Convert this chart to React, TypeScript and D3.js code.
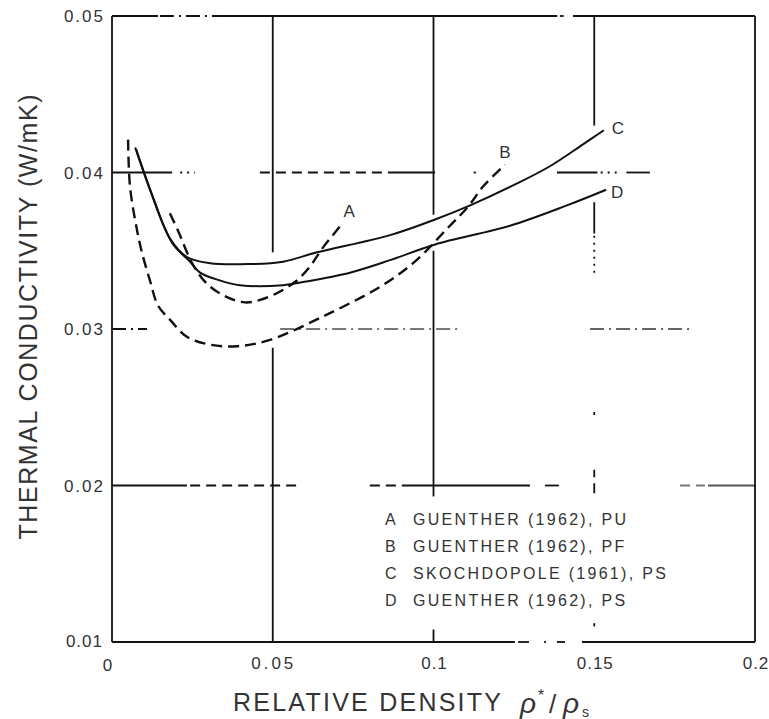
import React from "react";
import * as d3 from "d3";

// ---- data ----
const xTicks = [0, 0.05, 0.1, 0.15, 0.2];
const xTickLabels = ["0", "0.05", "0.1", "0.15", "0.2"];
const yTicks = [0.02, 0.03, 0.04, 0.05];
const yTickLabels = ["0.02", "0.03", "0.04", "0.05"];
const yBottomLabel = "0.01";

// relative density, thermal conductivity
const curveA: [number, number][] = [
  [0.018, 0.0374], [0.0205, 0.0363], [0.0252, 0.0341], [0.0295, 0.0329],
  [0.0351, 0.0321], [0.0414, 0.0317], [0.0467, 0.0319], [0.0523, 0.0324],
  [0.0575, 0.0331], [0.0616, 0.034], [0.0656, 0.0352], [0.0719, 0.0368],
];
const curveB: [number, number][] = [
  [0.005, 0.0421], [0.0056, 0.0391], [0.0078, 0.0363], [0.0093, 0.0349],
  [0.0118, 0.0331], [0.0143, 0.0315], [0.018, 0.0306], [0.0233, 0.0295],
  [0.0305, 0.029], [0.0389, 0.0289], [0.0491, 0.0293], [0.0656, 0.0308],
  [0.0834, 0.0327], [0.0942, 0.0343], [0.1051, 0.0366], [0.1107, 0.0378],
  [0.1154, 0.0391], [0.1222, 0.0405],
];
const curveC: [number, number][] = [
  [0.0072, 0.0416], [0.0118, 0.0389], [0.018, 0.0358], [0.0233, 0.0346],
  [0.0305, 0.0342], [0.0429, 0.03415], [0.0532, 0.0343], [0.0638, 0.0349],
  [0.0865, 0.036], [0.1005, 0.037], [0.1114, 0.0379], [0.126, 0.0393],
  [0.1362, 0.0404], [0.1465, 0.0418], [0.153, 0.0427],
];
const curveD: [number, number][] = [
  [0.0075, 0.0415], [0.0128, 0.0384], [0.0187, 0.0355], [0.0243, 0.0343],
  [0.0274, 0.0336], [0.0336, 0.0331], [0.0398, 0.0328], [0.0532, 0.0328],
  [0.0594, 0.033], [0.074, 0.0336], [0.0865, 0.0344], [0.1005, 0.0354],
  [0.1238, 0.0366], [0.1415, 0.0379], [0.1537, 0.0389],
];

const seriesKeys = ["A", "B", "C", "D"];
const seriesData = [curveA, curveB, curveC, curveD];
const seriesDashed = [true, true, false, false];
const legendLabels = [
  "GUENTHER (1962), PU",
  "GUENTHER (1962), PF",
  "SKOCHDOPOLE (1961), PS",
  "GUENTHER (1962), PS",
];

// broken (scanned) grid / frame segments, in data units
type Seg = { o: "h" | "v"; at: number; a: number; b: number; s: string; c?: string };
const gridSegs: Seg[] = [
  // top frame
  { o: "h", at: 0.05, a: 0, b: 0.0143, s: "solid" },
  { o: "h", at: 0.05, a: 0.0149, b: 0.0336, s: "dashdot" },
  { o: "h", at: 0.05, a: 0.0336, b: 0.1385, s: "solid" },
  { o: "h", at: 0.05, a: 0.1393, b: 0.1405, s: "solid" },
  { o: "h", at: 0.05, a: 0.1434, b: 0.2, s: "solid" },
  // 0.04
  { o: "h", at: 0.04, a: 0, b: 0.0187, s: "solid" },
  { o: "h", at: 0.04, a: 0.0212, b: 0.0258, s: "dot" },
  { o: "h", at: 0.04, a: 0.046, b: 0.0865, s: "dash" },
  { o: "h", at: 0.04, a: 0.0865, b: 0.1005, s: "solid" },
  { o: "h", at: 0.04, a: 0.1125, b: 0.1132, s: "solid" },
  { o: "h", at: 0.04, a: 0.1384, b: 0.151, s: "solid" },
  { o: "h", at: 0.04, a: 0.152, b: 0.1575, s: "dot" },
  { o: "h", at: 0.04, a: 0.16, b: 0.1673, s: "solid" },
  // 0.03
  { o: "h", at: 0.03, a: 0, b: 0.0109, s: "dashdot" },
  { o: "h", at: 0.03, a: 0.0523, b: 0.1082, s: "dashdot", c: "#777" },
  { o: "h", at: 0.03, a: 0.1487, b: 0.1798, s: "dashdot", c: "#666" },
  // 0.02
  { o: "h", at: 0.02, a: 0, b: 0.0233, s: "solid" },
  { o: "h", at: 0.02, a: 0.0243, b: 0.0585, s: "dash" },
  { o: "h", at: 0.02, a: 0.0802, b: 0.0927, s: "dash" },
  { o: "h", at: 0.02, a: 0.0927, b: 0.13, s: "solid" },
  { o: "h", at: 0.02, a: 0.1347, b: 0.139, s: "solid" },
  { o: "h", at: 0.02, a: 0.1767, b: 0.1844, s: "dash", c: "#777" },
  { o: "h", at: 0.02, a: 0.1854, b: 0.2, s: "solid", c: "#555" },
  // bottom frame
  { o: "h", at: 0.01, a: 0, b: 0.1253, s: "solid" },
  { o: "h", at: 0.01, a: 0.1263, b: 0.1297, s: "solid" },
  { o: "h", at: 0.01, a: 0.1344, b: 0.135, s: "solid" },
  { o: "h", at: 0.01, a: 0.1384, b: 0.1409, s: "solid" },
  { o: "h", at: 0.01, a: 0.1462, b: 0.2, s: "solid" },
  // verticals
  { o: "v", at: 0, a: 0.01, b: 0.05, s: "solid" },
  { o: "v", at: 0.2, a: 0.01, b: 0.05, s: "solid" },
  { o: "v", at: 0.05, a: 0.0349, b: 0.05, s: "solid" },
  { o: "v", at: 0.05, a: 0.01, b: 0.0288, s: "solid" },
  { o: "v", at: 0.1, a: 0.0373, b: 0.05, s: "solid" },
  { o: "v", at: 0.1, a: 0.0193, b: 0.035, s: "solid" },
  { o: "v", at: 0.1, a: 0.01, b: 0.0108, s: "solid" },
  { o: "v", at: 0.15, a: 0.043, b: 0.05, s: "solid" },
  { o: "v", at: 0.15, a: 0.0361, b: 0.0381, s: "solid" },
  { o: "v", at: 0.15, a: 0.0336, b: 0.0361, s: "dot" },
  { o: "v", at: 0.15, a: 0.0245, b: 0.0247, s: "solid" },
  { o: "v", at: 0.15, a: 0.0195, b: 0.021, s: "dash" },
  { o: "v", at: 0.15, a: 0.011, b: 0.0112, s: "solid" },
];

const dashFor: Record<string, string | undefined> = {
  solid: undefined,
  dash: "10 6",
  dashdot: "14 5 2 5",
  dot: "2 5",
};

const W = 769;
const H = 719;
const FONT = "'Liberation Sans', Arial, sans-serif";

export default function App() {
  const x = d3.scaleLinear().domain([0, 0.2]).range([112, 755]);
  const y = d3.scaleLinear().domain([0.01, 0.05]).range([642, 16]);
  const line = d3
    .line<[number, number]>()
    .x((d) => x(d[0]))
    .y((d) => y(d[1]))
    .curve(d3.curveCatmullRom.alpha(0.5));

  const ends = seriesData.map((s) => s[s.length - 1]);
  const labelOffsets: [number, number][] = [
    [6, -12],
    [0, -13],
    [14, -2],
    [11, 2],
  ];

  return (
    <svg
      width={W}
      height={H}
      style={{ position: "absolute", left: 0, top: 0, background: "#fff" }}
      fontFamily={FONT}
    >
      <rect width={W} height={H} fill="#fff" />
      {gridSegs.map((g, i) => {
        const st = {
          stroke: g.c || "#111",
          strokeWidth: 1.8,
          strokeDasharray: dashFor[g.s],
          fill: "none",
        };
        return g.o === "h" ? (
          <line key={i} x1={x(g.a)} x2={x(g.b)} y1={y(g.at)} y2={y(g.at)} {...st} />
        ) : (
          <line key={i} x1={x(g.at)} x2={x(g.at)} y1={y(g.a)} y2={y(g.b)} {...st} />
        );
      })}

      {/* y tick labels */}
      {yTicks.map((t, i) => (
        <text
          key={t}
          x={105}
          y={y(t) + 6}
          textAnchor="end"
          fontSize={17}
          letterSpacing={2}
          fill="#333"
        >
          {yTickLabels[i]}
        </text>
      ))}
      <text x={103} y={y(0.01) + 5} textAnchor="end" fontSize={17} letterSpacing={1} fill="#333">
        {yBottomLabel}
      </text>

      {/* x tick labels */}
      {xTicks.map((t, i) => (
        <text
          key={t}
          x={i === 0 ? x(t) - 4 : x(t) + 1}
          y={i === 0 ? 671 : 669}
          textAnchor="middle"
          fontSize={17}
          letterSpacing={i === 1 ? 3 : 1}
          fill="#333"
        >
          {xTickLabels[i]}
        </text>
      ))}

      {/* curves */}
      {seriesData.map((s, i) => (
        <path
          key={seriesKeys[i]}
          d={line(s) || ""}
          fill="none"
          stroke="#111"
          strokeWidth={seriesDashed[i] ? 2.4 : 2}
          strokeDasharray={seriesDashed[i] ? "11 6" : undefined}
        />
      ))}

      {/* curve labels */}
      {ends.map((e, i) => (
        <text
          key={seriesKeys[i]}
          x={x(e[0]) + labelOffsets[i][0]}
          y={y(e[1]) + labelOffsets[i][1] + 6}
          textAnchor="middle"
          fontSize={17}
          fill="#333"
        >
          {seriesKeys[i]}
        </text>
      ))}

      {/* legend */}
      {seriesKeys.map((k, i) => (
        <g key={k} fill="#333" fontSize={16}>
          <text x={385} y={525 + i * 27}>{k}</text>
          <text x={413} y={525 + i * 27} letterSpacing={2.3}>
            {legendLabels[i]}
          </text>
        </g>
      ))}

      {/* axis titles */}
      <text
        transform={`translate(37,${317}) rotate(-90)`}
        textAnchor="middle"
        fontSize={25}
        fill="#333"
        textLength={445}
        lengthAdjust="spacing"
      >
        THERMAL CONDUCTIVITY (W/mK)
      </text>
      <text x={233} y={711} fontSize={25} fill="#333" textLength={268} lengthAdjust="spacing">
        RELATIVE DENSITY
      </text>
      <text x={520} y={713} fontSize={28} fill="#333" fontStyle="italic">ρ</text>
      <text x={538} y={701} fontSize={16} fill="#333">*</text>
      <text x={549} y={713} fontSize={26} fill="#333">/</text>
      <text x={563} y={713} fontSize={28} fill="#333" fontStyle="italic">ρ</text>
      <text x={582} y={717} fontSize={14} fill="#333">s</text>
    </svg>
  );
}
